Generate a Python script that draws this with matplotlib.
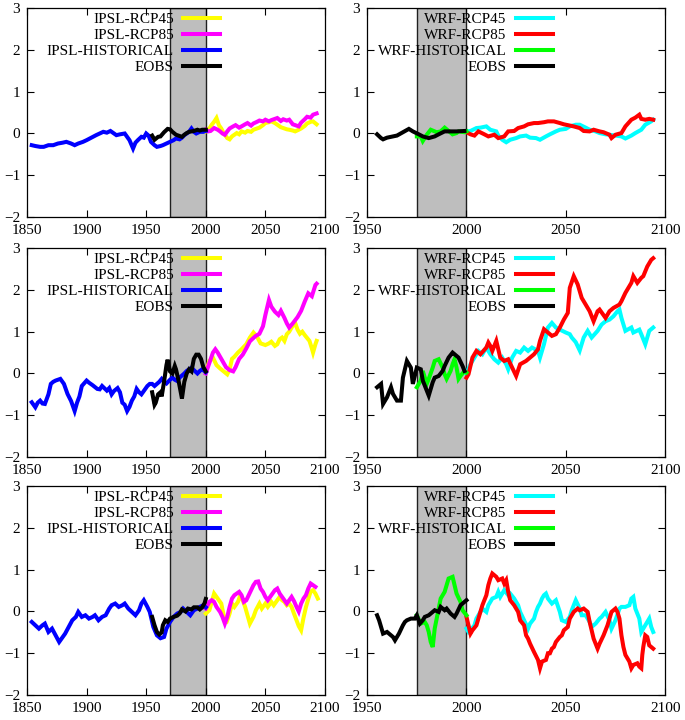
import matplotlib.pyplot as plt

plt.rcParams['font.family'] = ['Liberation Serif', 'DejaVu Serif']
plt.rcParams['font.size'] = 11

# ----- (year, anomaly) pairs -----
# top row, IPSL
r1_ipsl45 = [(2000,0.05),(2003,0.12),(2005,0.21),(2007,0.28),(2009,0.37),(2011,0.20),(2013,0.12),(2015,0.01),(2018,-0.11),(2020,-0.14),(2022,-0.07),(2024,-0.03),(2026,0.01),(2028,-0.02),(2030,0.05),(2033,0.02),(2035,0.06),(2038,0.04),(2040,0.09),(2043,0.12),(2045,0.14),(2048,0.20),(2050,0.25),(2053,0.27),(2055,0.29),(2058,0.25),(2060,0.21),(2063,0.15),(2065,0.13),(2068,0.10),(2070,0.09),(2073,0.07),(2075,0.05),(2078,0.09),(2080,0.12),(2083,0.18),(2085,0.24),(2088,0.28),(2090,0.29),(2093,0.22)]
r1_ipsl85 = [(2000,0.09),(2002,0.05),(2004,0.06),(2007,0.13),(2010,0.09),(2012,0.05),(2014,0.00),(2016,-0.03),(2018,0.05),(2020,0.12),(2023,0.17),(2025,0.20),(2028,0.14),(2030,0.17),(2033,0.22),(2035,0.25),(2038,0.19),(2040,0.24),(2043,0.28),(2045,0.31),(2048,0.29),(2050,0.33),(2053,0.29),(2055,0.32),(2058,0.35),(2060,0.37),(2063,0.30),(2065,0.34),(2068,0.31),(2070,0.33),(2073,0.22),(2075,0.20),(2078,0.17),(2080,0.26),(2083,0.34),(2085,0.40),(2088,0.38),(2090,0.45),(2093,0.48)]
r1_ipsl_hist = [(1854,-0.28),(1857,-0.30),(1861,-0.32),(1864,-0.32),(1868,-0.28),(1872,-0.28),(1876,-0.24),(1880,-0.22),(1883,-0.20),(1887,-0.24),(1890,-0.28),(1893,-0.24),(1897,-0.20),(1900,-0.16),(1904,-0.10),(1908,-0.04),(1911,0.00),(1914,0.04),(1917,0.02),(1920,0.06),(1923,0.00),(1925,-0.04),(1928,-0.02),(1932,0.00),(1934,-0.08),(1936,-0.16),(1939,-0.36),(1941,-0.22),(1943,-0.16),(1946,-0.08),(1948,-0.10),(1950,0.00),(1952,-0.05),(1954,-0.20),(1957,-0.28),(1959,-0.32),(1962,-0.30),(1964,-0.28),(1967,-0.24),(1970,-0.20),(1973,-0.16),(1975,-0.12),(1978,-0.14),(1980,-0.10),(1982,-0.04),(1984,0.00),(1986,0.04),(1988,0.12),(1990,0.04),(1992,0.00),(1995,0.04),(1998,0.04),(2000,0.06)]
r1_ipsl_eobs = [(1955,-0.05),(1957,-0.15),(1960,-0.08),(1962,-0.07),(1965,0.03),(1968,0.11),(1970,0.10),(1972,0.04),(1975,-0.03),(1977,-0.05),(1980,-0.08),(1982,-0.03),(1984,0.01),(1986,0.04),(1988,0.05),(1990,0.06),(1993,0.09),(1995,0.07),(1997,0.09),(2000,0.09)]

# middle row, IPSL
r2_ipsl45 = [(2000,0.05),(2003,0.30),(2006,0.38),(2009,0.20),(2012,0.12),(2015,0.05),(2018,-0.02),(2020,0.10),(2022,0.35),(2024,0.40),(2027,0.50),(2030,0.58),(2034,0.70),(2037,0.86),(2040,0.98),(2043,0.88),(2046,0.72),(2050,0.68),(2053,0.72),(2055,0.76),(2058,0.66),(2060,0.70),(2062,0.82),(2064,0.86),(2066,0.78),(2068,0.94),(2070,1.00),(2072,1.10),(2075,1.21),(2077,1.05),(2079,0.95),(2081,1.00),(2083,0.92),(2085,0.85),(2087,0.78),(2089,0.60),(2090,0.50),(2092,0.70),(2093,0.78)]
r2_ipsl85 = [(2000,0.00),(2003,0.25),(2006,0.50),(2008,0.58),(2010,0.50),(2012,0.40),(2014,0.30),(2017,0.15),(2020,0.08),(2023,0.05),(2025,0.15),(2028,0.35),(2031,0.45),(2034,0.60),(2037,0.77),(2040,0.85),(2042,0.90),(2045,0.95),(2048,1.13),(2050,1.40),(2053,1.76),(2055,1.60),(2058,1.48),(2061,1.40),(2063,1.50),(2066,1.33),(2068,1.20),(2070,1.10),(2073,1.20),(2077,1.35),(2080,1.50),(2083,1.72),(2086,1.92),(2089,1.85),(2092,2.12),(2093,2.15)]
r2_ipsl_hist = [(1854,-0.69),(1857,-0.81),(1859,-0.70),(1861,-0.65),(1863,-0.72),(1865,-0.73),(1868,-0.50),(1870,-0.25),(1872,-0.20),(1874,-0.17),(1878,-0.13),(1881,-0.25),(1884,-0.49),(1887,-0.66),(1890,-0.90),(1892,-0.70),(1894,-0.55),(1896,-0.30),(1900,-0.17),(1902,-0.22),(1905,-0.28),(1909,-0.37),(1911,-0.38),(1913,-0.30),(1917,-0.41),(1919,-0.35),(1921,-0.50),(1923,-0.42),(1926,-0.35),(1928,-0.45),(1930,-0.70),(1932,-0.75),(1934,-0.90),(1936,-0.80),(1938,-0.65),(1940,-0.55),(1942,-0.37),(1944,-0.45),(1946,-0.50),(1948,-0.42),(1951,-0.30),(1953,-0.25),(1955,-0.25),(1957,-0.30),(1959,-0.25),(1961,-0.20),(1963,-0.13),(1965,-0.20),(1967,-0.24),(1970,-0.15),(1972,-0.10),(1974,-0.15),(1976,-0.18),(1978,-0.10),(1980,-0.05),(1982,0.00),(1984,0.06),(1986,0.10),(1988,0.14),(1990,0.08),(1993,0.00),(1995,0.06),(1997,0.10),(2000,0.03)]
r2_ipsl_eobs = [(1955,-0.45),(1957,-0.75),(1958,-0.70),(1960,-0.50),(1962,-0.45),(1963,-0.55),(1965,-0.20),(1967,0.20),(1968,0.33),(1970,0.05),(1972,0.00),(1974,0.18),(1975,0.10),(1977,-0.15),(1979,-0.45),(1980,-0.60),(1982,-0.20),(1984,0.00),(1986,0.10),(1988,0.05),(1990,0.35),(1992,0.45),(1994,0.45),(1996,0.35),(1998,0.15),(2000,0.05)]

# bottom row, IPSL
r3_ipsl45 = [(2000,-0.05),(2003,0.03),(2005,0.23),(2007,0.43),(2009,0.35),(2011,0.27),(2013,0.19),(2015,-0.09),(2018,-0.21),(2020,-0.05),(2022,0.19),(2024,0.11),(2027,0.23),(2029,0.39),(2031,0.27),(2033,0.11),(2035,-0.09),(2037,-0.29),(2040,-0.13),(2042,0.03),(2045,0.19),(2047,0.07),(2050,0.19),(2052,0.11),(2055,0.23),(2057,0.15),(2059,0.23),(2062,0.35),(2064,0.27),(2066,0.23),(2068,0.15),(2070,0.19),(2072,0.11),(2074,-0.05),(2076,-0.20),(2078,-0.35),(2080,-0.45),(2082,-0.15),(2084,0.10),(2086,0.30),(2088,0.48),(2090,0.51),(2092,0.43),(2094,0.31)]
r3_ipsl85 = [(2000,0.07),(2003,0.23),(2005,0.27),(2007,0.23),(2009,0.11),(2012,-0.01),(2014,-0.13),(2016,-0.29),(2018,-0.13),(2020,0.11),(2022,0.31),(2024,0.39),(2026,0.43),(2028,0.47),(2030,0.39),(2032,0.23),(2034,0.27),(2036,0.39),(2038,0.51),(2040,0.63),(2042,0.71),(2044,0.72),(2046,0.55),(2048,0.47),(2050,0.35),(2052,0.27),(2054,0.35),(2056,0.43),(2058,0.51),(2060,0.55),(2062,0.43),(2064,0.35),(2066,0.27),(2068,0.19),(2070,0.27),(2072,0.35),(2074,0.25),(2076,0.12),(2078,0.00),(2080,0.19),(2082,0.31),(2084,0.39),(2086,0.55),(2088,0.67),(2090,0.63),(2092,0.59)]
r3_ipsl_hist = [(1854,-0.25),(1857,-0.33),(1860,-0.41),(1863,-0.33),(1865,-0.29),(1868,-0.49),(1871,-0.41),(1874,-0.57),(1877,-0.73),(1879,-0.65),(1882,-0.53),(1885,-0.37),(1888,-0.21),(1891,-0.13),(1893,-0.01),(1896,-0.13),(1899,-0.09),(1902,-0.17),(1905,-0.13),(1907,-0.09),(1910,-0.21),(1913,-0.13),(1916,-0.09),(1919,0.07),(1921,0.15),(1924,0.19),(1927,0.11),(1930,0.15),(1932,0.19),(1935,0.07),(1938,-0.01),(1941,-0.09),(1944,0.03),(1946,0.19),(1948,0.27),(1951,0.11),(1953,-0.01),(1956,-0.37),(1959,-0.57),(1962,-0.64),(1965,-0.61),(1967,-0.41),(1970,-0.25),(1973,-0.13),(1976,-0.05),(1979,-0.01),(1981,0.07),(1984,-0.01),(1987,-0.09),(1990,0.03),(1993,0.07),(1995,0.11),(1998,0.15),(2000,0.10)]
r3_ipsl_eobs = [(1955,-0.13),(1957,-0.33),(1959,-0.49),(1961,-0.55),(1963,-0.50),(1964,-0.33),(1966,-0.21),(1968,-0.25),(1970,-0.17),(1973,-0.13),(1976,-0.10),(1978,-0.05),(1980,0.05),(1983,0.00),(1985,0.07),(1988,0.05),(1990,0.10),(1993,0.10),(1995,0.05),(1997,0.10),(1999,0.20),(2000,0.30)]

# top row, WRF
r1_wrf45 = [(2000,0.05),(2002,0.06),(2005,0.13),(2007,0.14),(2010,0.17),(2012,0.09),(2015,0.05),(2016,-0.05),(2018,-0.15),(2020,-0.21),(2022,-0.15),(2025,-0.11),(2027,-0.07),(2030,-0.05),(2032,-0.10),(2035,-0.11),(2037,-0.15),(2040,-0.07),(2042,-0.02),(2045,0.05),(2047,0.09),(2050,0.11),(2052,0.17),(2055,0.21),(2057,0.21),(2060,0.14),(2062,0.09),(2065,0.05),(2067,0.01),(2070,-0.02),(2072,-0.03),(2075,-0.05),(2078,-0.07),(2080,-0.12),(2083,-0.05),(2085,0.01),(2088,0.09),(2090,0.21),(2093,0.29),(2094,0.33)]
r1_wrf85 = [(2000,0.03),(2002,-0.02),(2004,-0.05),(2006,0.05),(2009,-0.02),(2011,-0.07),(2014,-0.03),(2016,-0.11),(2019,-0.07),(2021,0.05),(2024,0.06),(2026,0.13),(2029,0.17),(2031,0.22),(2034,0.25),(2036,0.25),(2039,0.27),(2041,0.29),(2044,0.29),(2047,0.25),(2049,0.22),(2052,0.19),(2054,0.17),(2057,0.13),(2059,0.06),(2062,0.05),(2064,0.09),(2067,0.05),(2069,0.03),(2072,-0.03),(2073,-0.11),(2075,-0.03),(2078,0.01),(2080,0.17),(2083,0.33),(2085,0.38),(2087,0.45),(2088,0.35),(2090,0.33),(2092,0.35),(2094,0.33)]
r1_wrf_hist = [(1975,-0.07),(1977,-0.07),(1978,-0.18),(1980,-0.03),(1982,0.09),(1984,0.05),(1985,0.03),(1987,0.05),(1989,0.14),(1991,0.06),(1993,-0.02),(1995,0.01),(1996,0.05),(1999,0.03),(2000,0.05)]
r1_wrf_eobs = [(1955,-0.02),(1957,-0.11),(1958,-0.14),(1960,-0.10),(1963,-0.07),(1965,-0.05),(1968,0.03),(1971,0.11),(1973,0.05),(1976,-0.02),(1978,-0.07),(1981,-0.11),(1984,-0.07),(1986,-0.02),(1989,0.05),(1992,0.05),(1995,0.05),(1999,0.06)]

# middle row, WRF
r2_wrf45 = [(2000,0.00),(2002,0.22),(2004,0.38),(2006,0.54),(2008,0.46),(2010,0.62),(2012,0.46),(2014,0.34),(2016,0.26),(2018,0.38),(2020,0.22),(2021,0.10),(2023,0.38),(2025,0.54),(2027,0.50),(2029,0.62),(2031,0.54),(2033,0.62),(2036,0.54),(2037,0.38),(2039,0.70),(2041,1.10),(2043,1.21),(2045,1.10),(2047,1.05),(2050,0.98),(2052,0.94),(2053,0.86),(2055,0.75),(2057,0.55),(2059,0.86),(2061,1.02),(2063,0.86),(2066,1.02),(2068,1.17),(2070,1.25),(2072,1.29),(2074,1.37),(2076,1.49),(2077,1.53),(2078,1.33),(2080,1.02),(2083,1.10),(2084,0.98),(2087,1.05),(2088,0.94),(2090,0.70),(2092,1.02),(2094,1.10)]
r2_wrf85 = [(2000,-0.10),(2001,-0.02),(2003,0.38),(2005,0.54),(2007,0.46),(2010,0.62),(2011,0.74),(2012,0.66),(2013,0.54),(2015,0.78),(2017,0.38),(2019,0.30),(2021,0.34),(2023,0.14),(2025,-0.06),(2027,0.22),(2030,0.30),(2032,0.38),(2034,0.46),(2036,0.58),(2037,0.78),(2039,1.06),(2041,0.98),(2043,0.90),(2045,0.94),(2047,1.10),(2049,1.29),(2051,1.45),(2052,2.05),(2054,2.33),(2056,2.13),(2058,1.81),(2060,1.65),(2062,1.49),(2064,1.25),(2066,1.49),(2067,1.53),(2070,1.33),(2072,1.49),(2074,1.57),(2077,1.65),(2078,1.73),(2080,1.93),(2083,2.17),(2084,2.33),(2086,2.17),(2088,2.29),(2089,2.33),(2091,2.56),(2093,2.72),(2094,2.76)]
r2_wrf_hist = [(1975,-0.33),(1977,-0.17),(1978,0.06),(1980,-0.25),(1981,-0.13),(1983,0.14),(1984,0.30),(1986,0.34),(1988,0.14),(1989,-0.02),(1990,-0.13),(1992,0.06),(1993,0.22),(1994,0.34),(1995,0.14),(1996,-0.13),(1997,-0.06),(1999,0.06),(2000,0.02)]
r2_wrf_eobs = [(1955,-0.33),(1957,-0.25),(1958,-0.73),(1960,-0.57),(1962,-0.33),(1963,-0.49),(1965,-0.65),(1967,-0.65),(1968,-0.10),(1970,0.30),(1972,0.14),(1973,-0.25),(1975,0.14),(1977,0.10),(1978,-0.17),(1981,-0.53),(1983,-0.21),(1984,-0.10),(1986,-0.06),(1988,0.06),(1989,0.18),(1991,0.38),(1993,0.50),(1994,0.46),(1996,0.38),(1998,0.18),(1999,0.06)]

# bottom row, WRF
r3_wrf45 = [(2000,-0.41),(2001,-0.49),(2002,-0.45),(2004,-0.33),(2005,-0.17),(2006,-0.09),(2008,0.07),(2010,-0.01),(2011,0.15),(2012,0.23),(2013,0.31),(2015,0.35),(2016,0.47),(2017,0.35),(2019,0.51),(2021,0.39),(2022,0.43),(2024,0.31),(2026,0.15),(2027,-0.01),(2029,-0.21),(2031,-0.41),(2032,-0.29),(2034,-0.17),(2035,-0.01),(2036,0.11),(2037,0.19),(2038,0.31),(2039,0.39),(2040,0.43),(2041,0.31),(2043,0.19),(2045,0.27),(2047,-0.01),(2048,-0.21),(2050,-0.25),(2052,-0.13),(2053,0.03),(2055,0.27),(2057,0.07),(2058,-0.09),(2060,-0.09),(2062,-0.25),(2063,-0.37),(2065,-0.29),(2067,-0.17),(2068,-0.13),(2070,-0.01),(2072,-0.21),(2073,-0.41),(2075,-0.21),(2077,0.07),(2078,0.11),(2080,0.11),(2082,0.15),(2083,0.31),(2084,0.35),(2085,0.07),(2087,-0.17),(2088,-0.49),(2090,-0.33),(2092,-0.17),(2093,-0.37),(2094,-0.49)]
r3_wrf85 = [(2000,-0.13),(2001,-0.33),(2002,-0.53),(2003,-0.45),(2005,-0.33),(2006,-0.17),(2008,0.15),(2010,0.39),(2011,0.63),(2012,0.79),(2013,0.91),(2015,0.83),(2016,0.75),(2018,0.79),(2019,0.67),(2020,0.75),(2021,0.47),(2022,0.27),(2024,0.15),(2026,-0.01),(2027,-0.21),(2029,-0.33),(2030,-0.57),(2031,-0.65),(2032,-0.77),(2034,-0.97),(2036,-1.16),(2037,-1.36),(2038,-1.20),(2040,-1.16),(2041,-1.00),(2042,-1.00),(2043,-0.89),(2044,-0.85),(2045,-0.73),(2047,-0.61),(2048,-0.57),(2049,-0.45),(2051,-0.37),(2052,-0.17),(2054,-0.01),(2056,0.07),(2057,0.03),(2059,0.07),(2061,-0.01),(2062,-0.25),(2064,-0.65),(2066,-0.89),(2067,-0.77),(2069,-0.57),(2071,-0.33),(2072,-0.17),(2073,-0.01),(2075,0.07),(2076,-0.01),(2077,-0.17),(2078,-0.57),(2079,-0.85),(2080,-1.04),(2082,-1.20),(2083,-1.36),(2084,-1.28),(2086,-1.24),(2087,-1.32),(2088,-1.36),(2088.5,-1.04),(2089,-0.85),(2090,-0.57),(2091,-0.61),(2092,-0.81),(2093,-0.85),(2094,-0.89)]
r3_wrf_hist = [(1975,-0.09),(1977,-0.29),(1979,-0.25),(1980,-0.33),(1981,-0.49),(1982,-0.73),(1983,-0.85),(1984,-0.41),(1985,-0.17),(1986,0.07),(1987,0.31),(1989,0.47),(1990,0.63),(1991,0.79),(1993,0.83),(1994,0.63),(1995,0.43),(1997,0.23),(1998,0.03),(2000,-0.09)]
r3_wrf_eobs = [(1955,-0.09),(1956,-0.21),(1957,-0.37),(1958,-0.53),(1960,-0.49),(1962,-0.57),(1963,-0.61),(1964,-0.69),(1966,-0.53),(1968,-0.33),(1969,-0.25),(1970,-0.21),(1972,-0.17),(1974,-0.17),(1975,-0.09),(1976.5,-0.29),(1978,-0.21),(1979,-0.13),(1981,-0.09),(1983,-0.01),(1984,0.03),(1986,-0.01),(1987,0.11),(1989,0.03),(1990,0.07),(1992,-0.05),(1994,-0.13),(1995,-0.05),(1997,0.15),(1999,0.23),(2000,0.27)]

ipsl_labels = ["IPSL-RCP45", "IPSL-RCP85", "IPSL-HISTORICAL", "EOBS"]
wrf_labels = ["WRF-RCP45", "WRF-RCP85", "WRF-HISTORICAL", "EOBS"]
ipsl_colors = ["#ffff00", "#ff00ff", "#0000ff", "#000000"]
wrf_colors = ["#00ffff", "#ff0000", "#00ff00", "#000000"]

ipsl_rows = [[r1_ipsl45, r1_ipsl85, r1_ipsl_hist, r1_ipsl_eobs],
             [r2_ipsl45, r2_ipsl85, r2_ipsl_hist, r2_ipsl_eobs],
             [r3_ipsl45, r3_ipsl85, r3_ipsl_hist, r3_ipsl_eobs]]
wrf_rows = [[r1_wrf45, r1_wrf85, r1_wrf_hist, r1_wrf_eobs],
            [r2_wrf45, r2_wrf85, r2_wrf_hist, r2_wrf_eobs],
            [r3_wrf45, r3_wrf85, r3_wrf_hist, r3_wrf_eobs]]

fig = plt.figure(figsize=(6.85, 7.2), dpi=100)
row_bottoms = [0.6986, 0.3653, 0.0347]


def draw_panel(ax, series, labels, colors, xlim, xticks, band, leg_x):
  ax.axvspan(band[0], band[1], facecolor='#bebebe', edgecolor='#202020', lw=1.0, zorder=0.5)
  for s, lab, col in zip(series, labels, colors):
    xs = [p[0] for p in s]
    ys = [p[1] for p in s]
    ax.plot(xs, ys, color=col, lw=2.9, label=lab, solid_joinstyle='miter')
  ax.set_xlim(xlim)
  ax.set_ylim(-2, 3)
  ax.set_xticks(xticks)
  ax.set_yticks([-2, -1, 0, 1, 2, 3])
  ax.tick_params(direction='in', top=True, right=True, length=5, width=0.8, pad=5)
  for sp in ax.spines.values():
    sp.set_linewidth(0.9)
  ax.legend(loc='upper right', bbox_to_anchor=(leg_x, 1.0), frameon=False,
            markerfirst=False, handlelength=2.4, handletextpad=0.6,
            labelspacing=0.14, borderaxespad=0.0, borderpad=0.3, fontsize=11)


for i in range(3):
  axl = fig.add_axes([0.0394, row_bottoms[i], 0.435, 0.29])
  draw_panel(axl, ipsl_rows[i], ipsl_labels, ipsl_colors, (1850, 2100),
             [1850, 1900, 1950, 2000, 2050, 2100], (1970, 2000), 0.662)
  axr = fig.add_axes([0.536, row_bottoms[i], 0.435, 0.29])
  draw_panel(axr, wrf_rows[i], wrf_labels, wrf_colors, (1950, 2100),
             [1950, 2000, 2050, 2100], (1975, 2000), 0.638)

fig.savefig("out.png", dpi=100)
